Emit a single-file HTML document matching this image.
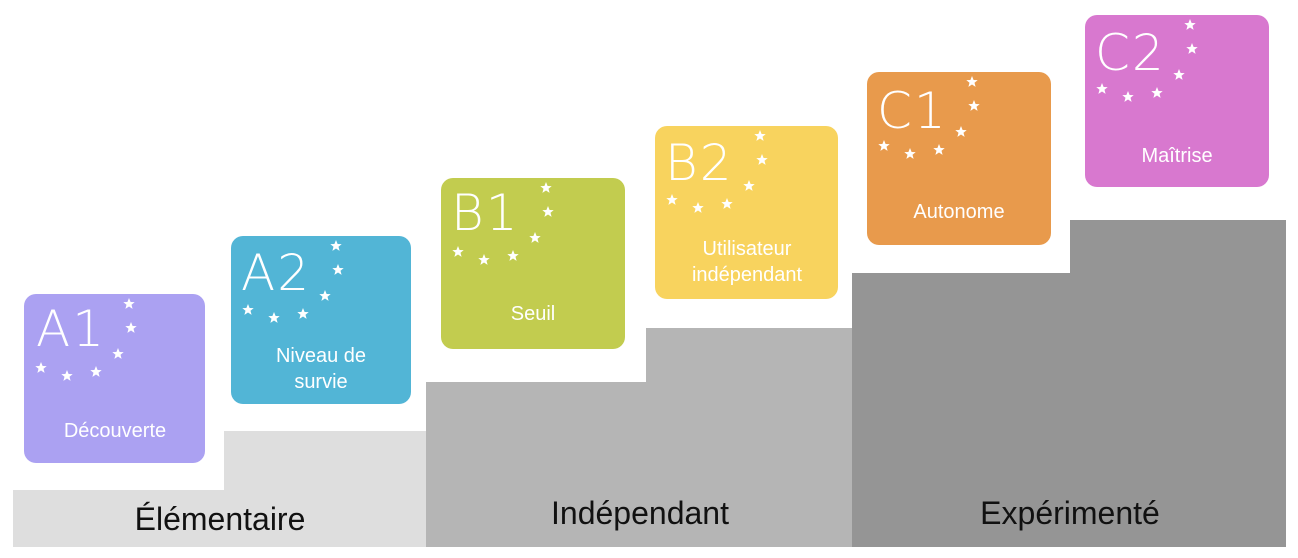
<!DOCTYPE html>
<html><head><meta charset="utf-8"><style>
html,body{margin:0;padding:0;background:#fff;width:1298px;height:558px;overflow:hidden}
text{font-family:"Liberation Sans","DejaVu Sans",sans-serif}
.big{fill:#fff;font-size:50px;font-family:"DejaVu Sans","Liberation Sans",sans-serif;font-weight:300;letter-spacing:2px}
.lab{fill:#fff;font-size:20px;text-anchor:middle}
.bot{fill:#111;font-size:32px;text-anchor:middle}
</style></head><body>
<svg width="1298" height="558" viewBox="0 0 1298 558" xmlns="http://www.w3.org/2000/svg">
<defs>
<polygon id="s" fill="#fff" points="0,-6 1.6,-2 5.7,-1.9 2.5,0.8 3.6,4.9 0,2.5 -3.6,4.9 -2.5,0.8 -5.7,-1.9 -1.6,-2"/>
<g id="st">
<use href="#s" x="105" y="10"/><use href="#s" x="107" y="34"/><use href="#s" x="94" y="60"/>
<use href="#s" x="72" y="78"/><use href="#s" x="43" y="82"/><use href="#s" x="17" y="74"/>
</g>
</defs>
<!-- steps -->
<path d="M13 490 H224 V431 H426 V547 H13 Z" fill="#dedede"/>
<path d="M426 382 H646 V328 H852 V547 H426 Z" fill="#b5b5b5"/>
<path d="M852 273 H1070 V220 H1286 V547 H852 Z" fill="#959595"/>
<text class="bot" x="220" y="530">Élémentaire</text>
<text class="bot" x="640" y="524">Indépendant</text>
<text class="bot" x="1070" y="524">Expérimenté</text>

<g transform="translate(24,294)">
<rect width="181" height="169" rx="12" fill="#aba1f2"/>
<text class="big" x="12" y="52">A1</text><use href="#st"/>
<text class="lab" x="91" y="143">Découverte</text></g>

<g transform="translate(231,236)">
<rect width="180" height="168" rx="12" fill="#52b5d6"/>
<text class="big" x="10" y="54">A2</text><use href="#st"/>
<text class="lab" x="90" y="126">Niveau de</text><text class="lab" x="90" y="152">survie</text></g>

<g transform="translate(441,178)">
<rect width="184" height="171" rx="12" fill="#c2cc4f"/>
<text class="big" x="10" y="52">B1</text><use href="#st"/>
<text class="lab" x="92" y="142">Seuil</text></g>

<g transform="translate(655,126)">
<rect width="183" height="173" rx="12" fill="#f8d35e"/>
<text class="big" x="10" y="54">B2</text><use href="#st"/>
<text class="lab" x="92" y="129">Utilisateur</text><text class="lab" x="92" y="155">indépendant</text></g>

<g transform="translate(867,72)">
<rect width="184" height="173" rx="12" fill="#e89a4c"/>
<text class="big" x="10" y="56">C1</text><use href="#st"/>
<text class="lab" x="92" y="146">Autonome</text></g>

<g transform="translate(1085,15)">
<rect width="184" height="172" rx="12" fill="#d878cf"/>
<text class="big" x="10" y="55">C2</text><use href="#st"/>
<text class="lab" x="92" y="147">Maîtrise</text></g>
</svg>
</body></html>
